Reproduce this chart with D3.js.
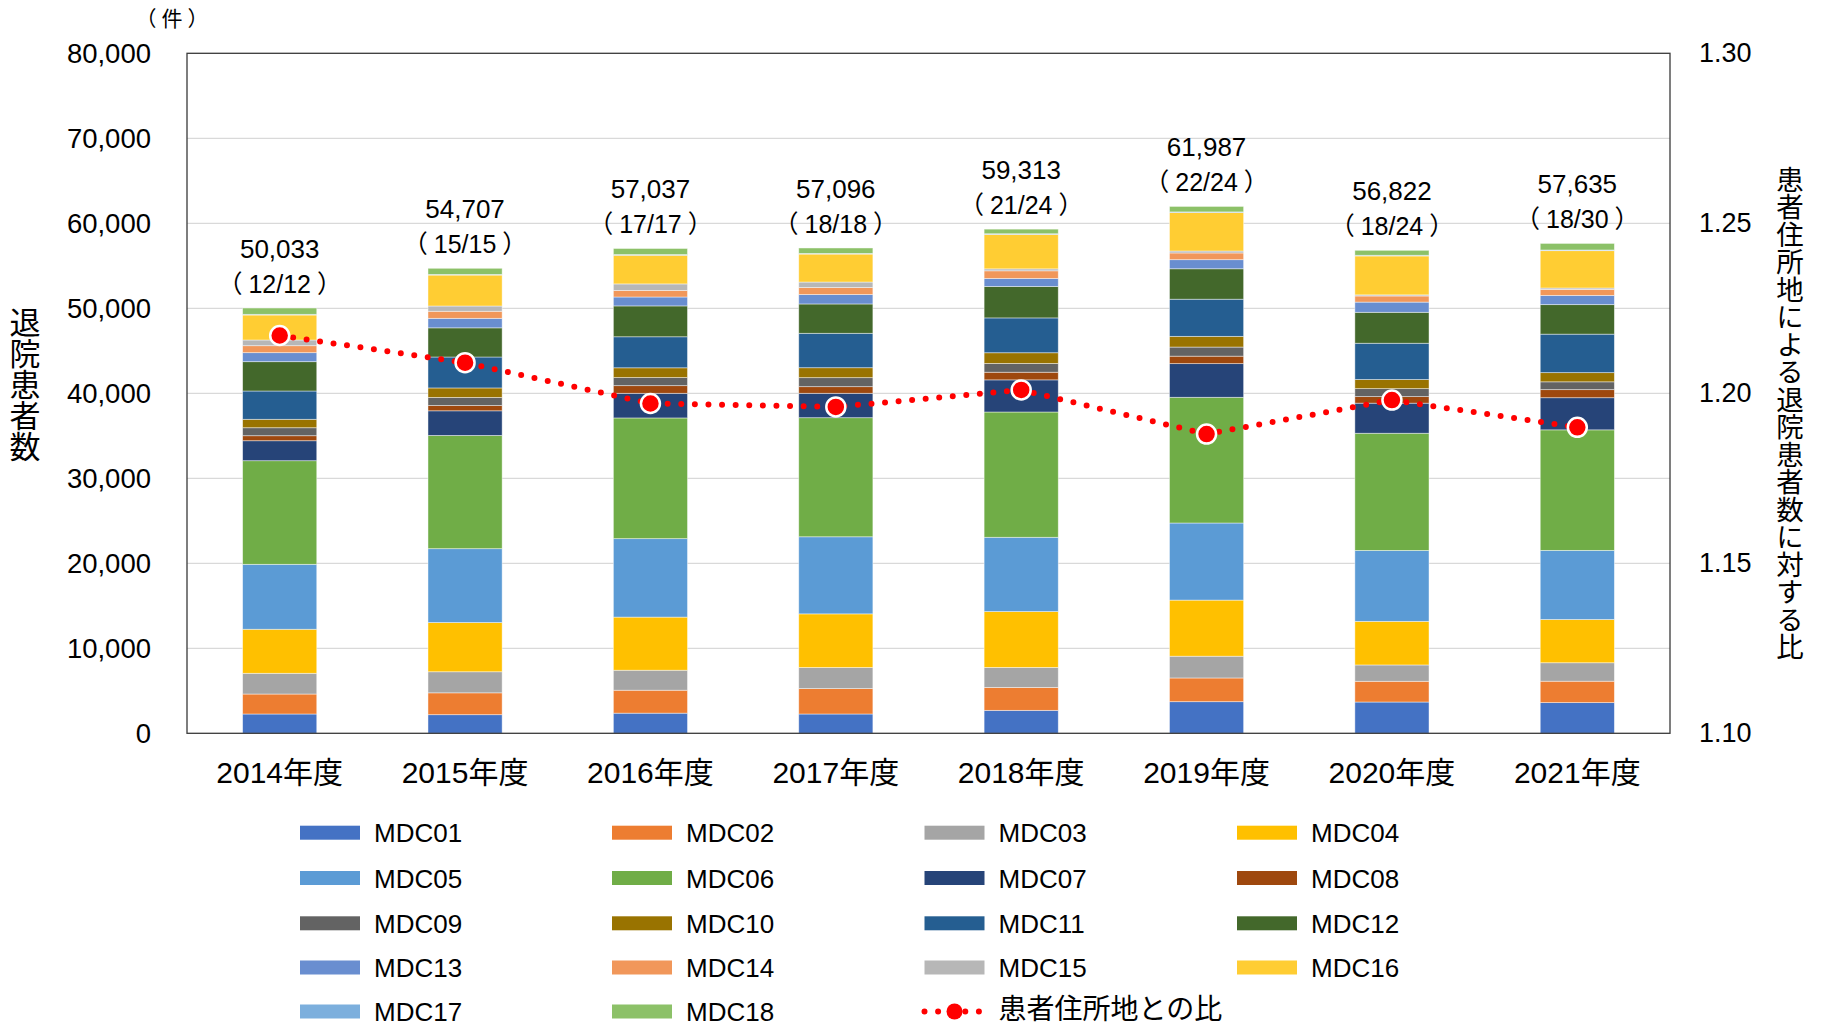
<!DOCTYPE html>
<html>
<head>
<meta charset="utf-8">
<script src="https://cdn.jsdelivr.net/npm/d3@7"></script>
<style>
  html, body { margin: 0; padding: 0; background: #fff; }
  svg { display: block; }
  text { fill: #000; }
</style>
</head>
<body>
<svg id="chart" width="1821" height="1027"></svg>
<script>
'use strict';

// categories
var years = ['2014年度', '2015年度', '2016年度', '2017年度', '2018年度', '2019年度', '2020年度', '2021年度'];

// discharged patients per MDC, one value per year
var mdc01 = [2270, 2190, 2370, 2270, 2700, 3720, 3680, 3610];
var mdc02 = [2350, 2570, 2700, 2990, 2700, 2790, 2440, 2520];
var mdc03 = [2440, 2480, 2350, 2480, 2350, 2560, 1920, 2170];
var mdc04 = [5180, 5790, 6250, 6310, 6570, 6600, 5130, 5090];
var mdc05 = [7640, 8690, 9230, 9070, 8740, 9070, 8340, 8130];
var mdc06 = [12190, 13320, 14200, 14010, 14740, 14790, 13790, 14180];
var mdc07 = [2350, 2900, 2900, 2870, 3780, 3960, 3540, 3780];
var mdc08 = [590, 620, 900, 780, 900, 880, 770, 950];
var mdc09 = [940, 950, 950, 1060, 1030, 1070, 940, 920];
var mdc10 = [990, 1120, 1150, 1170, 1260, 1260, 1070, 1080];
var mdc11 = [3330, 3640, 3650, 4050, 4100, 4370, 4270, 4530];
var mdc12 = [3450, 3430, 3630, 3450, 3700, 3580, 3640, 3470];
var mdc13 = [1060, 1120, 1050, 1110, 940, 1070, 1200, 1090];
var mdc14 = [820, 830, 770, 820, 900, 790, 720, 700];
var mdc15 = [670, 620, 770, 650, 230, 230, 130, 170];
var mdc16 = [2940, 3640, 3370, 3290, 4050, 4520, 4580, 4390];
var mdc17 = [80, 80, 80, 80, 80, 80, 80, 80];
var mdc18 = [743, 717, 717, 636, 543, 647, 582, 775];

// labels above bars
var totals = [50033, 54707, 57037, 57096, 59313, 61987, 56822, 57635];
var hospitals = ['12/12', '15/15', '17/17', '18/18', '21/24', '22/24', '18/24', '18/30'];

// ratio to patients by residence (right axis)
var ratio = [1.217, 1.209, 1.197, 1.196, 1.201, 1.188, 1.198, 1.190];

var leftTicks = [0, 10000, 20000, 30000, 40000, 50000, 60000, 70000, 80000];
var rightTicks = [1.10, 1.15, 1.20, 1.25, 1.30];

var seriesNames = ['MDC01', 'MDC02', 'MDC03', 'MDC04', 'MDC05', 'MDC06', 'MDC07', 'MDC08', 'MDC09',
  'MDC10', 'MDC11', 'MDC12', 'MDC13', 'MDC14', 'MDC15', 'MDC16', 'MDC17', 'MDC18'];
var seriesValues = [mdc01, mdc02, mdc03, mdc04, mdc05, mdc06, mdc07, mdc08, mdc09,
  mdc10, mdc11, mdc12, mdc13, mdc14, mdc15, mdc16, mdc17, mdc18];
var colors = ['#4472C4', '#ED7D31', '#A5A5A5', '#FFC000', '#5B9BD5', '#70AD47', '#264478', '#9E480E', '#636363',
  '#997300', '#255E91', '#43682B', '#698ED0', '#F1975A', '#B7B7B7', '#FFCD33', '#7CAFDD', '#8CC168'];

var latin = '"Liberation Sans", Arial, "Noto Sans CJK JP", sans-serif';
var cjk = '"Noto Sans CJK JP", "Liberation Sans", sans-serif';

var plotLeft = 187, plotRight = 1670, plotTop = 53.3, plotBottom = 733.3;

// build a row per year for d3.stack
var table = years.map(function (yr, i) {
  var row = { year: yr };
  seriesNames.forEach(function (n, k) { row[n] = seriesValues[k][i]; });
  return row;
});
var stacked = d3.stack().keys(seriesNames)(table);

var x = d3.scaleBand().domain(years).range([plotLeft, plotRight]).paddingInner(0.6).paddingOuter(0.3);
var y = d3.scaleLinear().domain([0, 80000]).range([plotBottom, plotTop]);
var y2 = d3.scaleLinear().domain([1.10, 1.30]).range([plotBottom, plotTop]);

var svg = d3.select('#chart');

// gridlines
svg.append('g')
  .selectAll('line')
  .data(leftTicks.slice(1, -1))
  .enter().append('line')
  .attr('x1', plotLeft).attr('x2', plotRight)
  .attr('y1', function (d) { return y(d); })
  .attr('y2', function (d) { return y(d); })
  .attr('stroke', '#d9d9d9')
  .attr('stroke-width', 1.3);

// stacked bars
svg.append('g')
  .selectAll('g')
  .data(stacked)
  .enter().append('g')
  .attr('fill', function (d, i) { return colors[i]; })
  .selectAll('rect')
  .data(function (d) { return d; })
  .enter().append('rect')
  .attr('x', function (d) { return x(d.data.year); })
  .attr('width', x.bandwidth())
  .attr('y', function (d) { return y(d[1]); })
  .attr('height', function (d) { return y(d[0]) - y(d[1]); })
  .attr('stroke', 'rgba(255,255,255,0.55)')
  .attr('stroke-width', 0.8);

// plot border
svg.append('rect')
  .attr('x', plotLeft).attr('y', plotTop)
  .attr('width', plotRight - plotLeft).attr('height', plotBottom - plotTop)
  .attr('fill', 'none')
  .attr('stroke', '#3a3a3a')
  .attr('stroke-width', 1.3);

// left axis
var yAxis = d3.axisLeft(y).tickValues(leftTicks).tickSize(0).tickPadding(36)
  .tickFormat(d3.format(','));
svg.append('g')
  .attr('transform', 'translate(' + plotLeft + ',0)')
  .call(yAxis)
  .call(function (g) { g.select('.domain').remove(); })
  .selectAll('text')
  .attr('font-family', latin)
  .attr('font-size', 27.5)
  .attr('fill', '#000');

// right axis
var y2Axis = d3.axisRight(y2).tickValues(rightTicks).tickSize(0).tickPadding(29)
  .tickFormat(d3.format('.2f'));
svg.append('g')
  .attr('transform', 'translate(' + plotRight + ',0)')
  .call(y2Axis)
  .call(function (g) { g.select('.domain').remove(); })
  .selectAll('text')
  .attr('font-family', latin)
  .attr('font-size', 27)
  .attr('fill', '#000');

// category axis
var xAxis = d3.axisBottom(x).tickSize(0).tickPadding(28.5);
svg.append('g')
  .attr('transform', 'translate(0,' + plotBottom + ')')
  .call(xAxis)
  .call(function (g) { g.select('.domain').remove(); })
  .selectAll('text')
  .attr('font-family', latin)
  .attr('font-size', 30)
  .attr('fill', '#000');

// ratio line
var cx = function (d, i) { return x(years[i]) + x.bandwidth() / 2; };
var line = d3.line().x(cx).y(function (d) { return y2(d); });
svg.append('path')
  .datum(ratio)
  .attr('d', line)
  .attr('fill', 'none')
  .attr('stroke', '#FF0000')
  .attr('stroke-width', 6)
  .attr('stroke-linecap', 'round')
  .attr('stroke-dasharray', '0 13.6');

svg.append('g')
  .selectAll('circle')
  .data(ratio)
  .enter().append('circle')
  .attr('cx', cx)
  .attr('cy', function (d) { return y2(d); })
  .attr('r', 9.5)
  .attr('fill', '#FF0000')
  .attr('stroke', '#fff')
  .attr('stroke-width', 2.5);

// total labels
var lastLayer = stacked[stacked.length - 1];
var labels = svg.append('g').selectAll('g')
  .data(lastLayer)
  .enter().append('g')
  .attr('transform', function (d, i) {
    return 'translate(' + (x(years[i]) + x.bandwidth() / 2) + ',' + y(d[1]) + ')';
  });
labels.append('text')
  .attr('y', -50)
  .attr('text-anchor', 'middle')
  .attr('font-family', latin)
  .attr('font-size', 26)
  .text(function (d, i) { return d3.format(',')(totals[i]); });

// full-width brackets get trimmed at the line ends, so pad them with dx
var sub = labels.append('text')
  .attr('y', -15)
  .attr('text-anchor', 'middle')
  .attr('font-family', cjk)
  .attr('font-size', 25);
sub.append('tspan').text('（');
sub.append('tspan')
  .attr('dx', 6)
  .attr('font-family', latin)
  .text(function (d, i) { return hospitals[i]; });
sub.append('tspan').attr('dx', 6).text('）');

// unit
var unit = svg.append('text')
  .attr('x', 172).attr('y', 26)
  .attr('text-anchor', 'middle')
  .attr('font-family', cjk)
  .attr('font-size', 21);
unit.append('tspan').text('（');
unit.append('tspan').attr('dx', 5).text('件');
unit.append('tspan').attr('dx', 5).text('）');

// axis titles
svg.append('text')
  .attr('x', 25).attr('y', 384)
  .attr('text-anchor', 'middle')
  .style('writing-mode', 'vertical-rl')
  .attr('font-family', cjk)
  .attr('font-size', 31)
  .text('退院患者数');

svg.append('text')
  .attr('x', 1790).attr('y', 413)
  .attr('text-anchor', 'middle')
  .style('writing-mode', 'vertical-rl')
  .attr('font-family', cjk)
  .attr('font-size', 27.5)
  .text('患者住所地による退院患者数に対する比');

// legend
var colX = [300, 612, 924.5, 1237];
var rowY = [832.7, 878, 923.3, 967.5, 1011.5];
var legend = svg.append('g').selectAll('g')
  .data(seriesNames)
  .enter().append('g')
  .attr('transform', function (d, i) {
    return 'translate(' + colX[i % 4] + ',' + rowY[Math.floor(i / 4)] + ')';
  });
legend.append('rect')
  .attr('y', -7).attr('width', 60).attr('height', 14)
  .attr('fill', function (d, i) { return colors[i]; });
legend.append('text')
  .attr('x', 74).attr('y', 9.5)
  .attr('font-family', latin)
  .attr('font-size', 26)
  .text(function (d) { return d; });

var lineLegend = svg.append('g')
  .attr('transform', 'translate(' + colX[2] + ',' + rowY[4] + ')');
lineLegend.append('line')
  .attr('x1', 0).attr('x2', 60)
  .attr('stroke', '#FF0000')
  .attr('stroke-width', 6)
  .attr('stroke-linecap', 'round')
  .attr('stroke-dasharray', '0 13.6');
lineLegend.append('circle')
  .attr('cx', 30).attr('r', 8)
  .attr('fill', '#FF0000');
lineLegend.append('text')
  .attr('x', 74).attr('y', 7)
  .attr('font-family', cjk)
  .attr('font-size', 28)
  .text('患者住所地との比');
</script>
</body>
</html>
